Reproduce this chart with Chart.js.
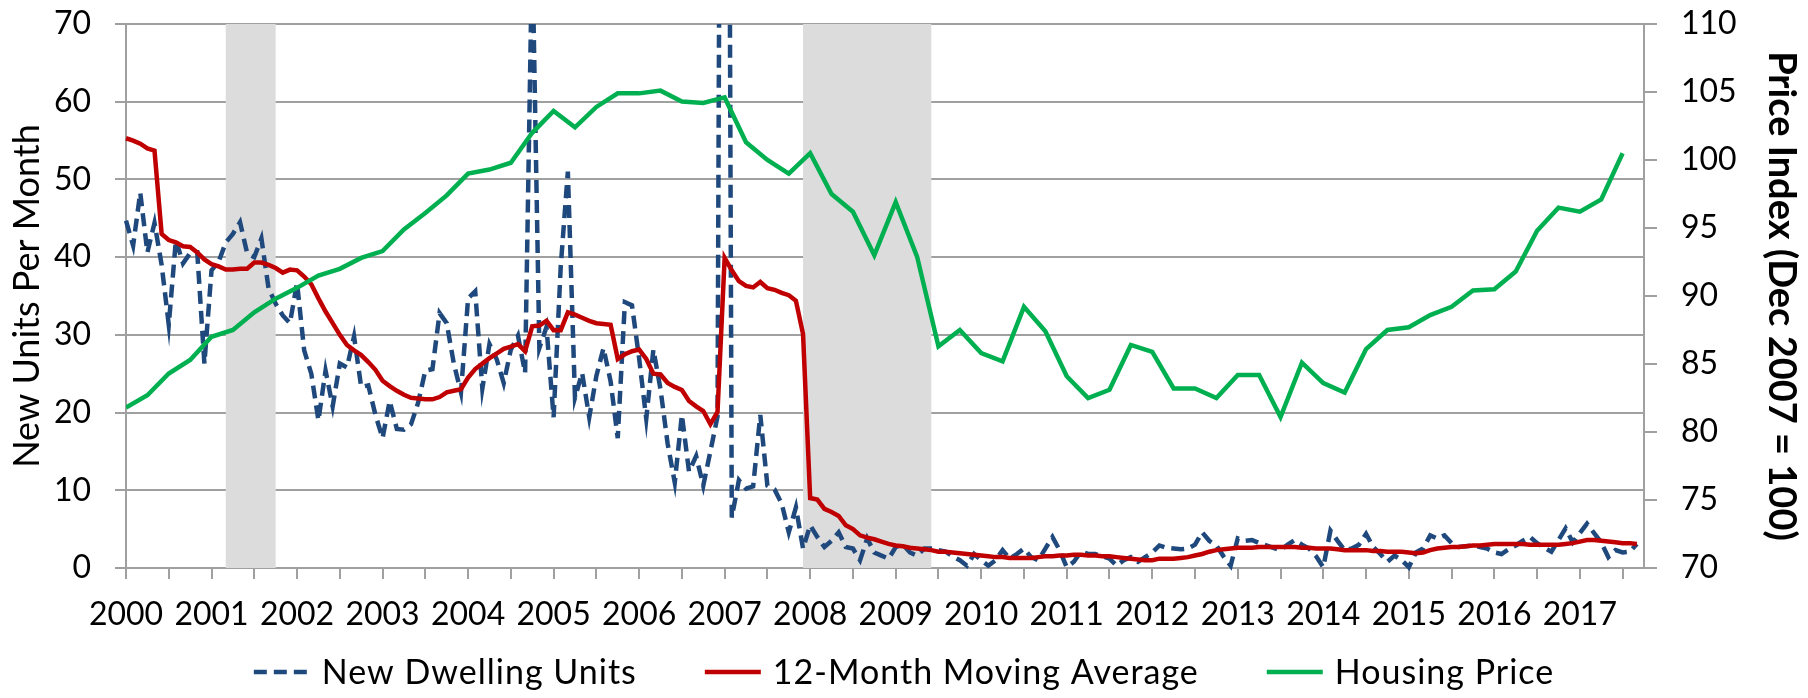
<!DOCTYPE html>
<html>
<head>
<meta charset="utf-8">
<script src="https://cdn.jsdelivr.net/npm/chart.js@4.4.0/dist/chart.umd.min.js"></script>
<style>
  html, body { margin: 0; padding: 0; background: #fff; }
  #wrap { width: 1808px; height: 698px; }
</style>
</head>
<body>
<div id="wrap"><canvas id="dwellingChart" width="1808" height="698"></canvas></div>
<script>
  // months are counted from Jan 2000
  const startYear = 2000;

  // new dwelling units per month, Jan 2000 .. Sep 2017
  const newUnits = [
    44.7, 41.5, 48.3, 40.6, 44.4, 39.0, 31.3, 42.2, 39.2, 40.5, 40.6, 26.3,
    38.3, 39.4, 41.9, 43.0, 44.5, 40.5, 40.0, 42.4, 36.0, 34.0, 32.5, 31.5,
    36.7, 28.0, 25.0, 19.0, 25.4, 20.8, 26.3, 25.8, 29.8, 23.3, 23.5, 19.7,
    16.7, 21.5, 17.9, 17.8, 18.5, 21.3, 25.4, 25.6, 32.8, 31.5, 26.3, 22.6,
    34.7, 35.6, 23.1, 28.8, 26.9, 23.8, 28.1, 29.9, 25.1, 80.0, 28.3, 31.0,
    19.4, 38.8, 51.0, 21.9, 25.1, 19.4, 24.7, 28.3, 24.0, 16.7, 34.2, 33.8,
    27.0, 19.2, 28.1, 23.0, 16.0, 11.0, 19.7, 12.4, 14.4, 10.6, 15.0, 19.5,
    255, 6.5, 11.3, 10.2, 10.5, 19.7, 10.6, 10.1, 8.3, 4.6, 7.8, 2.5,
    5.5, 4.0, 2.7, 3.5, 4.6, 2.7, 2.5, 1.0, 3.8, 2.0, 1.6, 1.2,
    2.7, 3.0, 2.0, 1.6, 2.5, 2.5, 2.3, 2.1, 1.5, 1.0, 0.3, 1.8,
    1.0, 0.3, 1.0, 2.3, 1.2, 1.8, 2.5, 1.4, 1.0, 2.5, 4.0, 2.3,
    0.1, 0.8, 2.1, 1.8, 1.8, 1.5, 1.2, 0.3, 1.0, 1.4, 0.8, 1.4,
    2.0, 2.9, 2.6, 2.5, 2.4, 2.5, 3.0, 4.6, 3.5, 2.9, 1.5, 0.3,
    3.8, 3.5, 3.6, 3.2, 2.9, 2.6, 2.3, 3.0, 3.6, 3.0, 2.5, 1.5,
    0.1, 4.8, 3.5, 2.3, 2.5, 3.0, 4.4, 2.7, 1.8, 0.8, 1.6, 1.0,
    0.1, 2.0, 2.5, 4.2, 3.8, 4.2, 3.2, 2.7, 2.8, 2.9, 2.7, 2.5,
    2.0, 1.8, 2.4, 2.9, 3.5, 4.0, 3.2, 2.6, 2.1, 3.6, 5.1, 3.3,
    4.5, 5.7, 4.5, 3.3, 1.4, 2.3, 2.0, 2.1, 3.1
  ];

  // 12-month moving average, same months
  const movingAvg = [
    55.3, 55.0, 54.6, 54.0, 53.7, 43.0, 42.2, 41.9, 41.4, 41.3, 40.6, 39.7,
    39.1, 38.8, 38.4, 38.4, 38.5, 38.5, 39.3, 39.3, 39.0, 38.6, 38.0, 38.4,
    38.3, 37.5, 36.5, 34.7, 33.0, 31.5, 30.0, 28.7, 28.0, 27.4, 26.5, 25.5,
    24.1, 23.4, 22.8, 22.3, 21.9, 21.8, 21.7, 21.7, 22.0, 22.6, 22.8, 23.0,
    24.5, 25.6, 26.3, 27.0, 27.6, 28.2, 28.5, 28.8, 27.9, 31.1, 31.2, 31.8,
    30.6, 30.6, 32.9, 32.6, 32.2, 31.8, 31.5, 31.4, 31.3, 26.9, 27.5, 27.9,
    28.1, 26.9, 25.0, 24.9, 23.8, 23.3, 22.9, 21.5, 20.8, 20.2, 18.5, 20.1,
    39.9, 38.3, 36.9, 36.3, 36.1, 36.8, 36.0, 35.8, 35.4, 35.1, 34.4, 30.1,
    9.0, 8.8, 7.6, 7.2, 6.7, 5.5, 5.0, 4.2, 3.9, 3.7, 3.4, 3.1,
    2.9, 2.8, 2.6, 2.5, 2.4, 2.3, 2.1, 2.1, 2.0, 1.9, 1.8, 1.7,
    1.6, 1.5, 1.4, 1.4, 1.3, 1.3, 1.3, 1.3, 1.4, 1.5, 1.5, 1.6,
    1.6, 1.7, 1.7, 1.6, 1.6, 1.5, 1.5, 1.4, 1.3, 1.2, 1.1, 1.0,
    1.0, 1.2, 1.2, 1.2, 1.3, 1.4, 1.6, 1.8, 2.1, 2.3, 2.4, 2.5,
    2.6, 2.6, 2.6, 2.7, 2.7, 2.7, 2.7, 2.7, 2.7, 2.6, 2.6, 2.5,
    2.5, 2.5, 2.4, 2.3, 2.3, 2.3, 2.3, 2.2, 2.2, 2.1, 2.1, 2.1,
    2.0, 1.9, 2.0, 2.3, 2.5, 2.6, 2.7, 2.7, 2.8, 2.9, 2.9, 3.0,
    3.1, 3.1, 3.1, 3.1, 3.1, 3.0, 3.0, 3.0, 3.0, 3.0, 3.1, 3.2,
    3.4, 3.6, 3.6, 3.5, 3.4, 3.3, 3.2, 3.2, 3.1
  ];

  // housing price index, quarterly (Dec 2007 = 100)
  const housingPrice = [
    81.8, 82.7, 84.3, 85.3, 87.0, 87.5, 88.8, 89.8, 90.6, 91.5, 92.0, 92.8,
    93.3, 94.9, 96.1, 97.4, 99.0, 99.3, 99.8, 102.0, 103.6, 102.4, 103.9, 104.9,
    104.9, 105.1, 104.3, 104.2, 104.6, 101.3, 100.0, 99.0, 100.5, 97.5, 96.2, 93.0,
    96.9, 92.9, 86.3, 87.5, 85.8, 85.2, 89.2, 87.4, 84.1, 82.5, 83.1, 86.4,
    85.9, 83.2, 83.2, 82.5, 84.2, 84.2, 81.1, 85.1, 83.6, 82.9, 86.1, 87.5,
    87.7, 88.6, 89.2, 90.4, 90.5, 91.8, 94.8, 96.5, 96.2, 97.1, 100.5
  ];

  // recessions, start/end month
  const recessions = [[14, 21], [95, 113]];

  const seriesNames = ["New Dwelling Units", "12-Month Moving Average", "Housing Price"];
  const seriesColors = ["#1f497d", "#c00000", "#00b050"];
  const gridGray = "#a0a0a0";

  const monthly = arr => arr.map((v, i) => ({ x: i, y: v }));
  const quarterly = arr => arr.map((v, i) => ({ x: i * 3, y: v }));

  // gray bands for the recessions, drawn over the grid and under the lines
  const recessionBands = {
    id: "recessionBands",
    beforeDatasetsDraw(chart) {
      const { ctx, chartArea, scales } = chart;
      ctx.save();
      ctx.fillStyle = "#dcdcdc";
      recessions.forEach(([a, b]) => {
        const x1 = scales.x.getPixelForValue(a);
        const x2 = scales.x.getPixelForValue(b);
        ctx.fillRect(x1, chartArea.top, x2 - x1, chartArea.bottom - chartArea.top);
      });
      ctx.restore();
    }
  };

  // legend row under the axis (built-in one ties item gap to row height)
  const bottomLegend = {
    id: "bottomLegend",
    afterDraw(chart) {
      const ctx = chart.ctx;
      const sampleW = 56, textGap = 12, itemGap = 68, y = 672;
      ctx.save();
      ctx.font = "34px Lato";
      ctx.letterSpacing = "1px";
      const items = chart.data.datasets.map(ds => ({ ds, w: ctx.measureText(ds.label).width }));
      const total = items.reduce((s, it) => s + sampleW + textGap + it.w, 0) + itemGap * (items.length - 1);
      let x = (chart.width - total) / 2;
      items.forEach(({ ds, w }) => {
        ctx.beginPath();
        ctx.strokeStyle = ds.borderColor;
        ctx.lineWidth = ds.borderWidth;
        ctx.setLineDash(ds.borderDash || []);
        ctx.moveTo(x, y);
        ctx.lineTo(x + sampleW, y);
        ctx.stroke();
        ctx.setLineDash([]);
        ctx.fillStyle = "#000";
        ctx.textBaseline = "middle";
        ctx.fillText(ds.label, x + sampleW + textGap, y + 1);
        x += sampleW + textGap + w + itemGap;
      });
      ctx.restore();
    }
  };

  // keep the plot top at the layout padding, not pushed by the tick label halves
  const noLabelPad = s => { s.paddingTop = 0; s.paddingBottom = 0; };

  Chart.defaults.font.family = "Lato";
  Chart.defaults.color = "#000";

  new Chart(document.getElementById("dwellingChart"), {
    type: "line",
    data: {
      datasets: [
        {
          label: seriesNames[0],
          data: monthly(newUnits),
          yAxisID: "y",
          borderColor: seriesColors[0],
          borderWidth: 4.5,
          borderDash: [13, 7],
          pointRadius: 0,
          order: 3,
          clip: { left: 2, right: 2, top: 0, bottom: 4 }
        },
        {
          label: seriesNames[1],
          data: monthly(movingAvg),
          yAxisID: "y",
          borderColor: seriesColors[1],
          borderWidth: 4.5,
          pointRadius: 0,
          order: 2,
          clip: { left: 2, right: 2, top: 0, bottom: 4 }
        },
        {
          label: seriesNames[2],
          data: quarterly(housingPrice),
          yAxisID: "y2",
          borderColor: seriesColors[2],
          borderWidth: 4.5,
          pointRadius: 0,
          order: 1
        }
      ]
    },
    options: {
      responsive: false,
      animation: false,
      devicePixelRatio: 1,
      layout: { padding: { top: 24, bottom: 58, left: 0, right: 0 } },
      plugins: {
        legend: { display: false },
        tooltip: { enabled: false }
      },
      scales: {
        x: {
          type: "linear",
          min: 0,
          max: 213,
          grid: { drawOnChartArea: false, color: gridGray, lineWidth: 2, tickLength: 11 },
          border: { color: gridGray, width: 2 },
          ticks: {
            stepSize: 6,
            includeBounds: false,
            autoSkip: false,
            maxRotation: 0,
            padding: 16,
            font: { size: 32 },
            callback: v => (v % 12 === 0 ? String(startYear + v / 12) : "")
          },
          afterFit: s => { s.height = 72; }
        },
        y: {
          position: "left",
          min: 0,
          max: 70,
          grid: { color: gridGray, lineWidth: 2, tickLength: 11 },
          border: { color: gridGray, width: 2 },
          ticks: { stepSize: 10, padding: 24, font: { size: 32 } },
          title: {
            display: true,
            text: "New Units Per Month",
            font: { size: 36 },
            padding: { top: 6, bottom: 0 }
          },
          afterFit: s => { s.width = 126; noLabelPad(s); }
        },
        y2: {
          position: "right",
          min: 70,
          max: 110,
          grid: { drawOnChartArea: false, color: gridGray, lineWidth: 2, tickLength: 13 },
          border: { color: gridGray, width: 2 },
          ticks: { stepSize: 5, padding: 24, font: { size: 32 } },
          title: {
            display: true,
            text: "Price Index (Dec 2007 = 100)",
            font: { size: 38, weight: "bold" },
            padding: { top: 4, bottom: 0 }
          },
          afterFit: s => { s.width = 164; noLabelPad(s); }
        }
      }
    },
    plugins: [recessionBands, bottomLegend]
  });
</script>
</body>
</html>
